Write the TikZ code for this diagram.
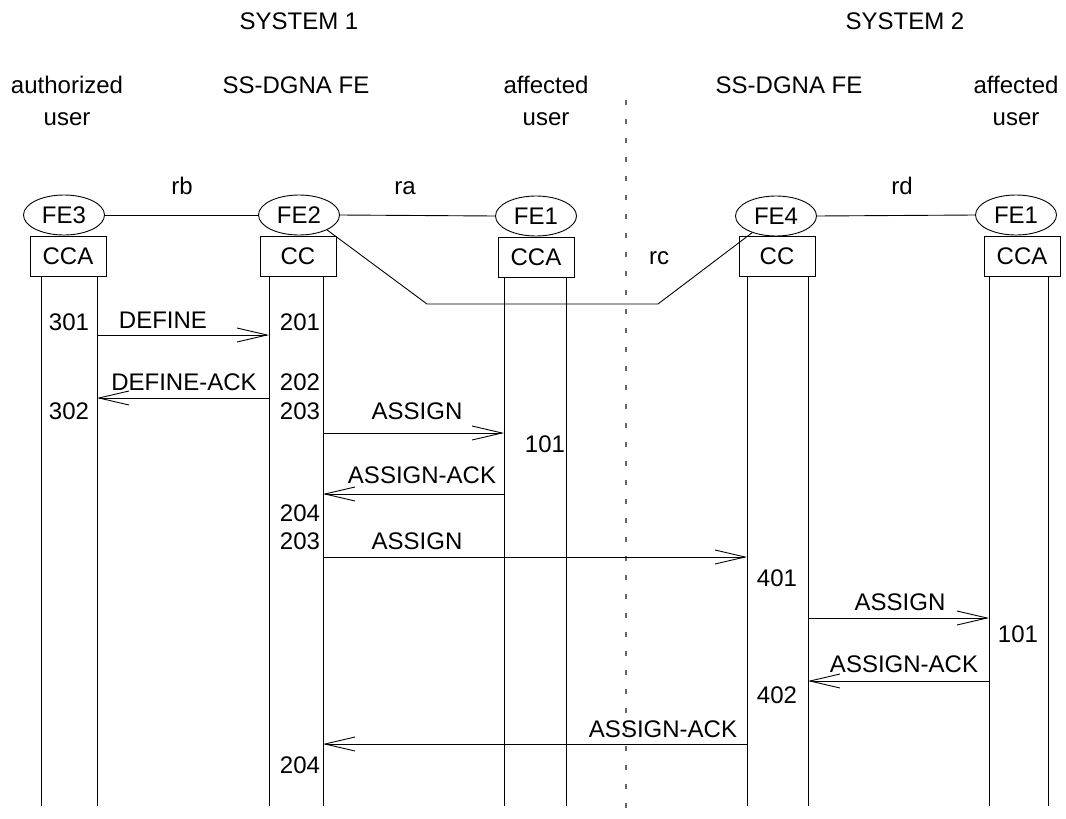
\documentclass[tikz,border=0pt]{standalone}
\usepackage{fontspec}
\setmainfont{Liberation Sans}
\usetikzlibrary{arrows.meta,shapes.geometric}
\begin{document}
\begin{tikzpicture}[x=1pt,y=-1pt,
  every node/.style={font=\fontsize{24}{28}\selectfont, inner sep=0pt},
  txt/.style={anchor=base},
  fe/.style={draw, ellipse, minimum width=81pt, minimum height=40pt, line width=0.9pt},
  fbox/.style={draw, rectangle, minimum width=76pt, minimum height=40pt, line width=0.9pt},
  life/.style={line width=0.9pt},
  link/.style={line width=0.9pt},
  msg/.style={line width=0.9pt, -{Straight Barb[length=30pt,width=14pt,line width=0.9pt]}},
  sep/.style={line width=1.2pt, black!60, dash pattern=on 5pt off 14pt}]
\useasboundingbox (0,0) rectangle (1066,819);
% headers
\node[txt] (s1) at (299,29) {SYSTEM 1};
\node[txt] (s2) at (905,29) {SYSTEM 2};
\node[txt] (h1) at (67,93) {authorized};
\node[txt] (h1b) at (67,125) {user};
\node[txt] (h2) at (296,93) {SS-DGNA FE};
\node[txt] (h3) at (546,93) {affected};
\node[txt] (h3b) at (546,125) {user};
\node[txt] (h4) at (789,93) {SS-DGNA FE};
\node[txt] (h5) at (1016,93) {affected};
\node[txt] (h5b) at (1016,125) {user};
% separator
\coordinate (sepT) at (626,100);
\coordinate (sepB) at (626,819);
\draw[sep] (sepT) -- (sepB);
% FE nodes
\node[fe] (FE3) at (64,215) {FE3};
\node[fe] (FE2) at (299,215) {FE2};
\node[fe] (FE1a) at (536,216) {FE1};
\node[fe] (FE4) at (776,216) {FE4};
\node[fe] (FE1b) at (1016,215) {FE1};
\node[fbox] (B3) at (68,256) {CCA};
\node[fbox] (B2) at (298,256) {CC};
\node[fbox] (B1a) at (536,257) {CCA};
\node[fbox] (B4) at (777,256) {CC};
\node[fbox] (B1b) at (1022,256) {CCA};
% links
\draw[link] (FE3.east) -- (FE2.west);
\draw[link] (FE2.east) -- (FE1a.west);
\draw[link] (FE4.east) -- (FE1b.west);
\coordinate (c1) at (427,304);
\coordinate (c2) at (658,304);
\draw[link] (FE2.-28) -- (c1) -- (c2) -- (FE4.-145);
\node[txt] (rb) at (182,194) {rb};
\node[txt] (ra) at (405,194) {ra};
\node[txt] (rd) at (902,194) {rd};
\node[txt] (rc) at (659,264) {rc};
% lifelines
\foreach \n/\x/\y in {a/41/277, b/97/277, c/269/276, d/323/276, e/504/278, f/566/278, g/747/276, h/808/276, i/989/276, j/1048/276}{
  \coordinate (L\n-top) at (\x,\y);
  \coordinate (L\n-bot) at (\x,806);
  \draw[life] (L\n-top) -- (L\n-bot);
}
% messages
\draw[msg] (Lb-top |- 0,335) -- (Lc-top |- 0,335);
\draw[msg] (Lc-top |- 0,398) -- (Lb-top |- 0,398);
\draw[msg] (Ld-top |- 0,433) -- (Le-top |- 0,433);
\draw[msg] (Le-top |- 0,494) -- (Ld-top |- 0,494);
\draw[msg] (Ld-top |- 0,557) -- (Lg-top |- 0,557);
\draw[msg] (Lh-top |- 0,618) -- (Li-top |- 0,618);
\draw[msg] (Li-top |- 0,681) -- (Lh-top |- 0,681);
\draw[msg] (Lg-top |- 0,744) -- (Ld-top |- 0,744);
% message labels
\node[txt] (m1) at (163,328) {DEFINE};
\node[txt] (m2) at (184,390) {DEFINE-ACK};
\node[txt] (m3) at (417,419) {ASSIGN};
\node[txt] (m4) at (422,483) {ASSIGN-ACK};
\node[txt] (m5) at (417,549) {ASSIGN};
\node[txt] (m6) at (900,610) {ASSIGN};
\node[txt] (m7) at (904,672) {ASSIGN-ACK};
\node[txt] (m8) at (663,737) {ASSIGN-ACK};
% numbers
\node[txt] (n301) at (69,330) {301};
\node[txt] (n201) at (300,330) {201};
\node[txt] (n202) at (300,390) {202};
\node[txt] (n302) at (69,419) {302};
\node[txt] (n203) at (300,419) {203};
\node[txt] (n101a) at (545,452) {101};
\node[txt] (n204) at (300,521) {204};
\node[txt] (n203b) at (300,549) {203};
\node[txt] (n401) at (777,586) {401};
\node[txt] (n101b) at (1018,642) {101};
\node[txt] (n402) at (777,703) {402};
\node[txt] (n204b) at (300,773) {204};
\end{tikzpicture}
\end{document}
